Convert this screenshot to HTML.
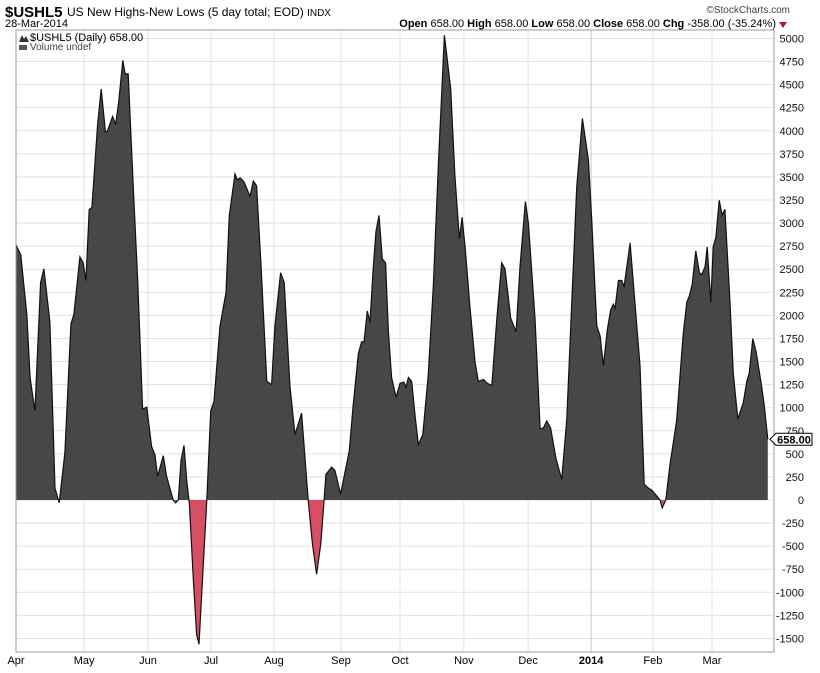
<!DOCTYPE html>
<html><head><meta charset="utf-8">
<style>
body{margin:0;background:#fff;font-family:"Liberation Sans",sans-serif;}
svg text{font-family:"Liberation Sans",sans-serif;}
</style></head>
<body>
<svg id="chart" width="820" height="668" xmlns="http://www.w3.org/2000/svg">
<text x="5" y="17" font-size="15" font-weight="bold">$USHL5</text>
<text x="67" y="16" font-size="12">US New Highs-New Lows (5 day total; EOD) <tspan font-size="10">INDX</tspan></text>
<text x="5" y="27" font-size="11">28-Mar-2014</text>
<text x="790" y="13" font-size="10" fill="#444" text-anchor="end">©StockCharts.com</text>
<text x="776" y="27" font-size="11" text-anchor="end"><tspan font-weight="bold">Open</tspan> 658.00 <tspan font-weight="bold">High</tspan> 658.00 <tspan font-weight="bold">Low</tspan> 658.00 <tspan font-weight="bold">Close</tspan> 658.00 <tspan font-weight="bold">Chg</tspan> -358.00 (-35.24%)</text>
<path d="M779 22 L787 22 L783 28 Z" fill="#a01c2c"/>
<g id="grid"></g>
<g id="series"></g>
<rect x="16" y="30" width="758" height="622" fill="none" stroke="#999"/>
<g id="axes"></g>
<text x="30" y="41" font-size="11" font-family="Liberation Mono">$USHL5 (Daily) 658.00</text>
<path d="M19 42 L22 35 L24 39 L26 36 L29 42Z" fill="#333"/>
<text x="30" y="50" font-size="10" fill="#444">Volume undef</text>
<rect x="19" y="45" width="8" height="5" fill="#555"/>
</svg>
<script>
const days=[0,1.6,3.6,4.7,6.3,8.2,9.3,11.3,13,14.4,16.3,18.3,19.3,21.3,22.4,23.3,24.4,25.3,27.2,28.4,29.8,30.4,32.2,33.2,34.2,35.6,36.4,37.4,39.1,40.6,42.2,43.6,45.2,46.3,47.2,49.1,50.2,52.4,53.2,54.1,55,56,56.9,57.8,59.1,60.2,61,62.1,63.6,64.9,66,68,70,71.1,73,73.8,74.7,76,78,79.1,80.2,81.7,83.6,85.2,86.3,88.2,89.4,91.3,93,95.2,97.4,98.8,100.2,101.6,102.7,103.3,105.2,106.3,108.2,111.1,112.4,114.1,115.2,116,117.1,118,119.1,120,121,122.1,123.2,124.1,125.2,126.7,128,129.3,130,130.8,131.9,133,134.1,135.6,137.4,139.1,140.8,142.8,144.9,146.3,147.8,148.7,149.7,151.3,153,154.1,155.8,157.1,158.6,160.4,161.9,163,164.9,166.7,168,169.8,170.8,173,174.7,175.8,176.9,178.2,180,181.9,183.6,185.2,186.9,188.8,190.8,191.9,193.6,194.7,195.8,197.1,198.2,199.1,199.7,200.8,201.9,202.7,204.7,206.3,208,209.4,210.8,211.9,213.6,214.7,215.4,216.6,218,220.2,222.4,223.6,224.4,225.4,226.6,227.8,228.6,229.7,230.4,231.6,232.4,233.3,234.4,235.4,236.3,238,239.1,240.6,242.4,243.6,244.4,245.6,246.7,248.6,249.4,250.6];
const values=[2762,2655,2013,1327,963,2355,2505,1927,128,-30,514,1905,2013,2633,2569,2377,3147,3169,4068,4453,3991,3991,4154,4068,4303,4762,4616,4616,3383,2355,985,1006,578,492,257,480,257,0,-30,0,428,591,214,-43,-856,-1456,-1563,-899,0,963,1070,1884,2248,3083,3533,3468,3490,3447,3289,3456,3404,2526,1285,1250,1884,2462,2355,1242,707,942,0,-471,-805,-471,0,278,355,321,64,535,1028,1584,1713,1713,2047,1927,2526,2912,3083,2612,2569,1841,1327,1113,1263,1277,1221,1328,1285,921,600,707,1349,2313,3641,5034,4455,3513,2827,3063,2742,2099,1499,1285,1307,1264,1242,2013,2570,2506,1971,1821,2528,3234,2999,1971,771,780,857,780,450,223,878,2099,3384,4134,3684,3042,1885,1778,1457,1842,2056,2121,2078,2378,2378,2313,2785,2142,1457,171,129,107,43,0,-86,0,386,857,1799,2142,2206,2335,2699,2463,2442,2528,2742,2142,2742,2849,3247,3085,3149,2142,1371,878,1050,1285,1371,1748,1607,1221,1028,658];
const monthLabels=["Apr","May","Jun","Jul","Aug","Sep","Oct","Nov","Dec","2014","Feb","Mar"];
const monthDays=[0,22.7,44,65,86,108.3,128,149.3,170.7,191.7,212.3,232];
const yTicks=[5000,4750,4500,4250,4000,3750,3500,3250,3000,2750,2500,2250,2000,1750,1500,1250,1000,750,500,250,0,-250,-500,-750,-1000,-1250,-1500];
const lastValue=658;

const NS="http://www.w3.org/2000/svg";
const xS=d=>16+d*3;
const yS=v=>500-v*0.09231;
function mk(tag,attrs,parent){const e=document.createElementNS(NS,tag);for(const k in attrs)e.setAttribute(k,attrs[k]);parent.appendChild(e);return e;}
const grid=document.getElementById('grid'),series=document.getElementById('series'),axes=document.getElementById('axes'),svg=document.getElementById('chart');
yTicks.forEach(t=>{
  const l=mk('line',{x1:16,x2:774,y1:yS(t),y2:yS(t),stroke:'#e2e2e2'},grid);
  
  
  const tx=mk('text',{x:804,y:yS(t)+4,'font-size':11,'text-anchor':'end',fill:'#111'},axes);
  tx.textContent=t;
  
  
});
monthDays.forEach((d,i)=>{
  const l=mk('line',{x1:xS(d),x2:xS(d),y1:30,y2:652,stroke:i==9?'#c8c8c8':'#e2e2e2'},grid);
  
  
  const tx=mk('text',{x:xS(d),y:664,'font-size':11,'text-anchor':'middle','font-weight':i==9?'bold':'normal'},axes);
  tx.textContent=monthLabels[i];
  
  
});
const defs=mk('defs',{},svg);
const cp1=mk('clipPath',{id:'pos'},defs);mk('rect',{x:0,y:0,width:820,height:yS(0)},cp1);
const cp2=mk('clipPath',{id:'neg'},defs);mk('rect',{x:0,y:yS(0),width:820,height:400},cp2);
let line='';days.forEach((d,i)=>{line+=(i?'L':'M')+xS(d).toFixed(1)+' '+yS(values[i]).toFixed(1)+' ';});
const area=line+'L'+xS(days[days.length-1])+' '+yS(0)+' L'+xS(0)+' '+yS(0)+' Z';
const pa=mk('path',{d:area,fill:'#474747','clip-path':'url(#pos)'},series);


const na=mk('path',{d:area,fill:'#d64f63','clip-path':'url(#neg)'},series);


const ln=mk('path',{d:line,fill:'none',stroke:'#111','stroke-width':1.2},series);


const ly=yS(lastValue);
const box=mk('path',{d:`M770 ${ly} L776 ${ly-6} L812 ${ly-6} L812 ${ly+6} L776 ${ly+6} Z`,fill:'#fff',stroke:'#000'},axes);


const bt=mk('text',{x:794,y:ly+4,'font-size':11,'font-weight':'bold','text-anchor':'middle'},axes);
bt.textContent=lastValue.toFixed(2);


</script>
</body></html>
